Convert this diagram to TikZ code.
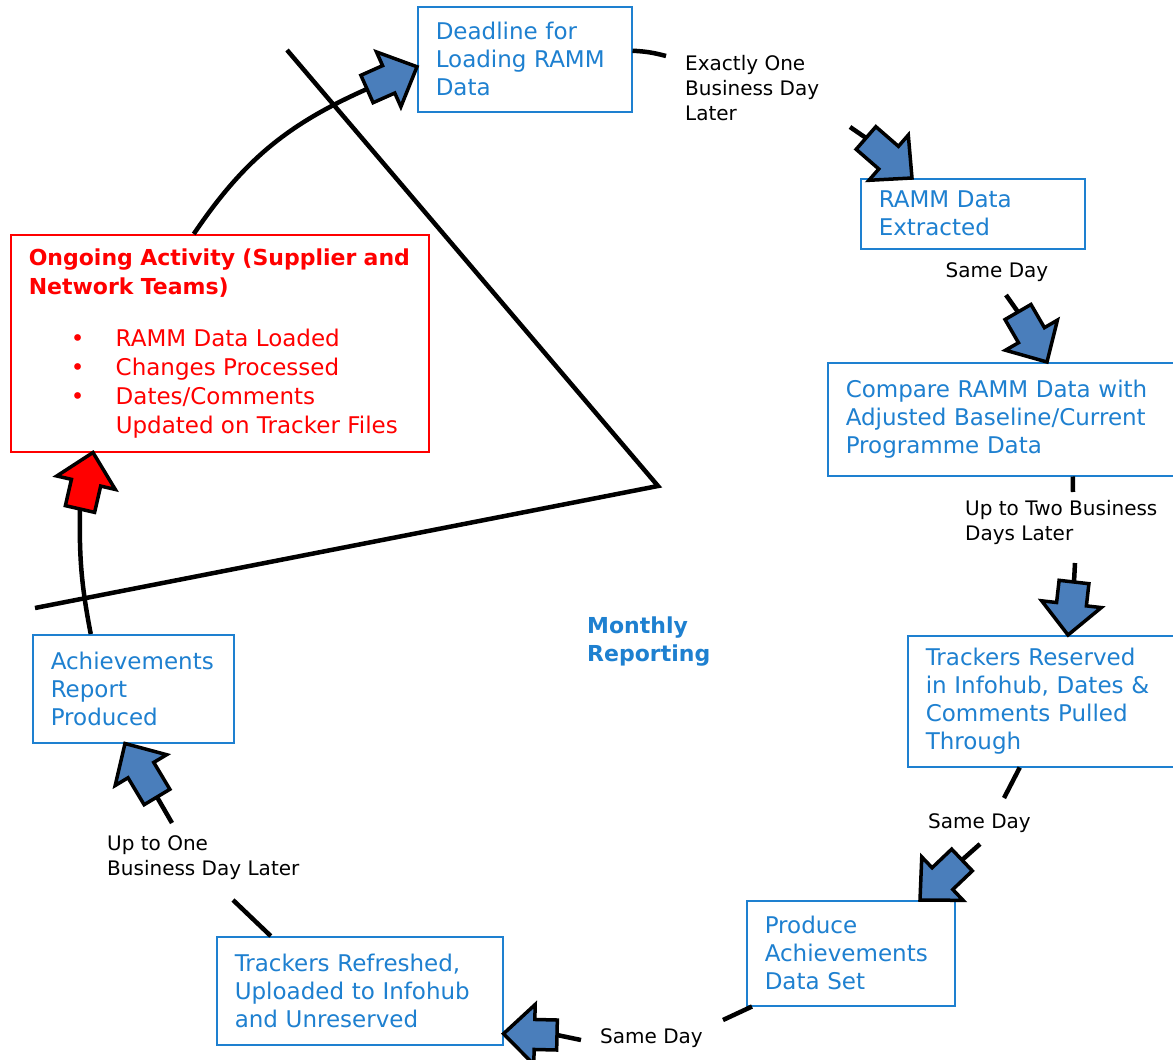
\documentclass[tikz,border=0pt]{standalone}
\usepackage{fontspec}
\setmainfont{DejaVu Sans}
\usetikzlibrary{calc}
\definecolor{boxblue}{RGB}{30,128,208}
\definecolor{arrowblue}{RGB}{74,126,187}
\definecolor{ongoingred}{RGB}{255,0,0}

% block arrow: [fill]{start}{tip}
\newcommand{\fatarrow}[3][arrowblue]{%
  \coordinate (fa-base) at ($(#3)!31pt!(#2)$);
  \filldraw[fill=#1,draw=black,line width=3.5pt,line join=miter]
    ($(#2)!15pt!90:(#3)$) -- ($(fa-base)!15pt!90:(#3)$) -- ($(fa-base)!30pt!90:(#3)$)
    -- (#3) -- ($(fa-base)!30pt!-90:(#3)$) -- ($(fa-base)!15pt!-90:(#3)$)
    -- ($(#2)!15pt!-90:(#3)$) -- cycle;
}
\newcommand{\rbullet}{\makebox[87pt][l]{\hspace{42pt}\textbullet}}

\tikzset{
  cyclebox/.style={draw=boxblue, line width=1.5pt, fill=white, text=boxblue,
    anchor=north west, inner xsep=18pt, inner ysep=0pt, align=left,
    font=\fontsize{23}{28}\selectfont},
  note/.style={font=\fontsize{20}{25}\selectfont, align=left, inner sep=0pt, anchor=west},
  link/.style={line width=4.5pt}
}

\begin{document}
\begin{tikzpicture}[x=1pt,y=-1pt]
  \fill[white] (0,0) rectangle (1173,1060);
  \useasboundingbox (0,0) rectangle (1173,1060);

  % wedge
  \coordinate (wedge-top) at (287,50);
  \coordinate (wedge-tip) at (658,486);
  \coordinate (wedge-left) at (35,608);
  \draw[link,line join=miter] (wedge-top) -- (wedge-tip) -- (wedge-left);

  % boxes
  \node[cyclebox, minimum width=214pt, minimum height=105pt, text width=178pt] (deadline) at (417,6) {Deadline for\\Loading RAMM\\Data};
  \node[cyclebox, minimum width=224pt, minimum height=70pt, text width=188pt] (extracted) at (860,178) {RAMM Data\\Extracted};
  \node[cyclebox, minimum width=353pt, minimum height=113pt, text width=317pt] (compare) at (827,362) {Compare RAMM Data with\\Adjusted Baseline/Current\\Programme Data};
  \node[cyclebox, minimum width=273pt, minimum height=131pt, text width=237pt] (reserved) at (907,635) {Trackers Reserved\\in Infohub, Dates \&\\Comments Pulled\\Through};
  \node[cyclebox, minimum width=208pt, minimum height=105pt, text width=172pt] (produce) at (746,900) {Produce\\Achievements\\Data Set};
  \node[cyclebox, minimum width=286pt, minimum height=108pt, text width=250pt] (refreshed) at (216,936) {Trackers Refreshed,\\Uploaded to Infohub\\and Unreserved};
  \node[cyclebox, minimum width=201pt, minimum height=108pt, text width=165pt] (report) at (32,634) {Achievements\\Report\\Produced};
  \node[cyclebox, draw=ongoingred, text=ongoingred, minimum width=418pt, minimum height=217pt, text width=382pt,
    font=\fontsize{22}{29}\selectfont\bfseries] (ongoing) at (10,234)
    {\mbox{Ongoing Activity (Supplier and}\\Network Teams)\\[23pt]\mdseries\fontsize{23}{29}\selectfont\rbullet RAMM Data Loaded\\\rbullet Changes Processed\\\rbullet Dates/Comments\\\hspace*{87pt}Updated on Tracker Files};

  % labels
  \node[note] (later1) at (685,88) {Exactly One\\Business Day\\Later};
  \node[note, anchor=center] (same1) at (997,272) {Same Day};
  \node[note] (later2) at (965,522) {Up to Two Business\\Days Later};
  \node[note] (same2) at (928,823) {Same Day};
  \node[note] (same3) at (600,1038) {Same Day};
  \node[note] (later3) at (107,858) {Up to One\\Business Day Later};
  \node[note, text=boxblue, font=\fontsize{22}{28}\selectfont\bfseries] (monthly) at (587,642) {Monthly\\Reporting};

  % connectors
  \coordinate (c1) at (666,56);
  \coordinate (c1b) at (850,127);
  \coordinate (a1) at (866,138);
  \coordinate (t1) at ([xshift=52pt]extracted.north west);
  \draw[link] ([yshift=8.5pt]deadline.east) to[bend left=6] (c1);
  \draw[link] (c1b) -- (a1);

  \coordinate (c2) at (1006,295);
  \coordinate (a2) at (1018,312);
  \coordinate (t2) at ([xshift=220pt]compare.north west);
  \draw[link] (c2) -- (a2);

  \coordinate (c3) at (1073,492);
  \coordinate (c3b) at (1075,563);
  \coordinate (a3) at (1074,582);
  \coordinate (t3) at ([xshift=161pt]reserved.north west);
  \draw[link] ([xshift=68.5pt]compare.south) -- (c3);
  \draw[link] (c3b) -- (a3);

  \coordinate (c4) at (1004,798);
  \coordinate (c4b) at (980,844);
  \coordinate (a4) at (962,860);
  \coordinate (t4) at ([xshift=174pt]produce.north west);
  \draw[link] ([xshift=-24.5pt]reserved.south) -- (c4);
  \draw[link] (c4b) -- (a4);

  \coordinate (c5) at (723,1020);
  \coordinate (c5b) at (581,1040);
  \coordinate (a5) at (557,1035);
  \coordinate (t5) at ([yshift=-43pt]refreshed.east);
  \draw[link] ([xshift=6pt]produce.south west) -- (c5);
  \draw[link] (c5b) -- (a5);

  \coordinate (c6) at (233,900);
  \coordinate (c6b) at (172,823);
  \coordinate (a6) at (157,797);
  \coordinate (t6) at ([xshift=93pt]report.south west);
  \draw[link] ([xshift=-89pt]refreshed.north) -- (c6);
  \draw[link] (c6b) -- (a6);

  \coordinate (a7) at (80,509);
  \coordinate (t7) at ([xshift=83pt]ongoing.south west);
  \draw[link] ([xshift=-42.5pt]report.north) to[bend left=6] (a7);

  \coordinate (a8) at (367,89);
  \coordinate (t8) at ([yshift=-7.5pt]deadline.west);
  \draw[link] ([xshift=-26pt]ongoing.north) to[bend left=16] (a8);

  % block arrows
  \fatarrow{a1}{t1}
  \fatarrow{a2}{t2}
  \fatarrow{a3}{t3}
  \fatarrow{a4}{t4}
  \fatarrow{a5}{t5}
  \fatarrow{a6}{t6}
  \fatarrow[ongoingred]{a7}{t7}
  \fatarrow{a8}{t8}
\end{tikzpicture}
\end{document}
